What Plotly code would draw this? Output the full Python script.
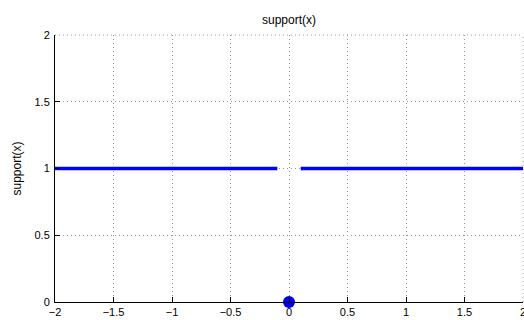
import numpy as np
import plotly.graph_objects as go

x_left = [-2.0, -1.5, -1.0, -0.5, -0.1]
y_left = [1, 1, 1, 1, 1]
x_right = [0.1, 0.5, 1.0, 1.5, 2.0]
y_right = [1, 1, 1, 1, 1]
pt_x = [0]
pt_y = [0]
x_ticks = [-2, -1.5, -1, -0.5, 0, 0.5, 1, 1.5, 2]
y_ticks = [0, 0.5, 1, 1.5, 2]

x_line = x_left + [None] + x_right
y_line = y_left + [None] + y_right

FONT = "Liberation Sans, Arial, sans-serif"
GRID = "#9a9a9a"
DASH = "1px,3px"

fig = go.Figure()
fig.add_trace(go.Scatter(x=x_line, y=y_line, mode="lines",
                         line=dict(color="#0000ff", width=3.5), connectgaps=False,
                         showlegend=False))
fig.add_trace(go.Scatter(x=pt_x, y=pt_y, mode="markers",
                         marker=dict(color="#0000ff", size=12), cliponaxis=False,
                         showlegend=False))

axis_common = dict(showgrid=True, gridcolor=GRID, griddash=DASH, gridwidth=1,
                   zeroline=False, showline=True, linecolor="black", linewidth=1,
                   ticks="inside", ticklen=5, tickcolor="black", mirror=False,
                   automargin=False, ticklabeloverflow="allow",
                   tickfont=dict(family=FONT, size=11, color="black"))

fig.update_xaxes(range=[-2, 2], tickvals=x_ticks, ticklabelstandoff=0, **axis_common)
fig.update_yaxes(range=[0, 2], tickvals=y_ticks, ticklabelstandoff=2,
                 title=dict(text="support(x)", standoff=10,
                            font=dict(family=FONT, size=12, color="black")),
                 **axis_common)

# grid lines at the upper/right range edges (MATLAB draws them, Plotly skips them)
fig.add_shape(type="line", xref="paper", yref="paper", x0=0, x1=1, y0=1, y1=1,
              line=dict(color=GRID, width=1, dash=DASH), layer="below")
fig.add_shape(type="line", xref="paper", yref="paper", x0=1, x1=1, y0=0, y1=1,
              line=dict(color=GRID, width=1, dash=DASH), layer="below")

fig.update_layout(
    width=524, height=320,
    margin=dict(l=55, r=1, t=35, b=18),
    paper_bgcolor="white", plot_bgcolor="white",
    title=dict(text="support(x)", x=0.5, xanchor="center", y=1 - 20 / 320, yanchor="middle",
               xref="paper",
               font=dict(family=FONT, size=12, color="black")),
)

fig.write_html("out.html", config={"displayModeBar": False},
               post_script="document.body.style.margin='0';document.body.style.padding='0';")
